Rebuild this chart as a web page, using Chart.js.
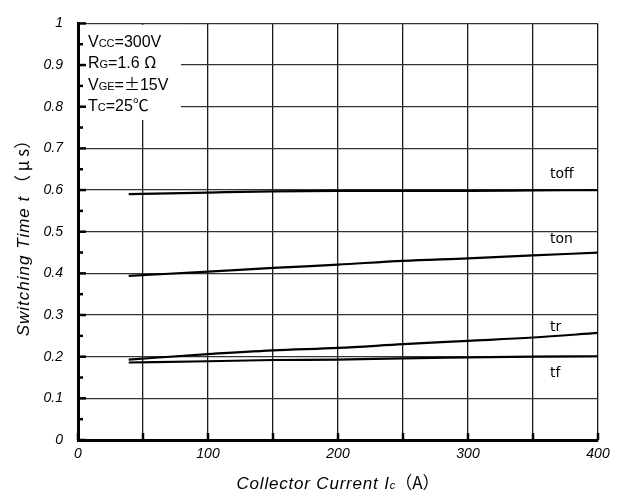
<!DOCTYPE html>
<html><head><meta charset="utf-8">
<script src="https://cdn.jsdelivr.net/npm/chart.js@4/dist/chart.umd.min.js"></script>
<style>html,body{margin:0;padding:0;background:#fff}#wrap{width:621px;height:495px;position:relative}</style>
</head><body><div id="wrap"><canvas id="c"></canvas></div>
<script>
// ---- data ----
const currentA = [39, 100, 150, 200, 250, 300, 350, 400];
const toff = [0.590, 0.594, 0.597, 0.598, 0.598, 0.598, 0.599, 0.600];
const ton  = [0.394, 0.404, 0.413, 0.421, 0.430, 0.436, 0.443, 0.450];
const tr   = [0.193, 0.206, 0.215, 0.221, 0.230, 0.238, 0.246, 0.257];
const tf   = [0.186, 0.189, 0.192, 0.193, 0.196, 0.198, 0.200, 0.201];
const seriesNames = ['toff', 'ton', 'tr', 'tf'];
const seriesLabelX = [363, 363, 363, 363];
const seriesLabelY = [0.628, 0.4735, 0.2616, 0.152];
const xTickLabels = ['0', '100', '200', '300', '400'];
const yTickLabels = ['0', '0.1', '0.2', '0.3', '0.4', '0.5', '0.6', '0.7', '0.8', '0.9', '1'];
const conditionLines = [
  [['V', 'n'], ['CC', 's'], ['=300V', 'n']],
  [['R', 'n'], ['G', 's'], ['=1.6 ', 'n'], ['Ω', 'j']],
  [['V', 'n'], ['GE', 's'], ['=', 'n'], ['±', 'j'], ['15V', 'n']],
  [['T', 'n'], ['C', 's'], ['=25', 'n'], ['℃', 'j']]
];
const xTitleParts = [['Collector Current ', 'n'], ['I', 'n'], ['c', 's'], ['（A）', 'j']];
const yTitleParts = [['Switching Time ', 'n'], ['t', 'n'], [' （ μ s）', 'j']];

const allSeries = [toff, ton, tr, tf];
const pts = s => currentA.map((x, i) => ({x: x, y: s[i]}));

function drawParts(ctx, parts, fonts, x, y, spacing) {
  parts.forEach(([t, k]) => {
    ctx.font = fonts[k];
    ctx.letterSpacing = (k === 'n' ? spacing : 0) + 'px';
    ctx.fillText(t, x, y);
    x += ctx.measureText(t).width;
  });
  ctx.letterSpacing = '0px';
}
function partsWidth(ctx, parts, fonts, spacing) {
  let w = 0;
  parts.forEach(([t, k]) => {
    ctx.font = fonts[k];
    ctx.letterSpacing = (k === 'n' ? spacing : 0) + 'px';
    w += ctx.measureText(t).width;
  });
  ctx.letterSpacing = '0px';
  return w;
}

const overlay = {
  id: 'overlay',
  afterDraw(chart) {
    const ctx = chart.ctx, xs = chart.scales.x, ys = chart.scales.y, ca = chart.chartArea;
    ctx.save();
    // conditions box
    ctx.fillStyle = '#fff';
    ctx.fillRect(ca.left + 2, ca.top + 1.5, 101, 95);
    const fonts = {n: '16px "Liberation Sans"', s: '11px "Liberation Sans"', j: '16px "Noto Sans CJK JP"'};
    ctx.fillStyle = '#000';
    ctx.textBaseline = 'alphabetic';
    ctx.textAlign = 'left';
    conditionLines.forEach((line, li) => {
      drawParts(ctx, line, fonts, ca.left + 10, ca.top + 23.5 + li * 21.5, 0);
    });
    // ticks on left axis (inside)
    ctx.strokeStyle = '#000';
    ctx.lineWidth = 2.5;
    for (let i = 0; i <= 20; i++) {
      const py = ys.getPixelForValue(i * 0.05);
      const len = (i % 2 === 0) ? 8 : 5;
      ctx.beginPath();
      ctx.moveTo(ca.left, py);
      ctx.lineTo(ca.left + len, py);
      ctx.stroke();
    }
    // ticks on bottom axis (inside)
    for (let v = 0; v <= 400; v += 50) {
      const px = xs.getPixelForValue(v);
      ctx.beginPath();
      ctx.moveTo(px, ca.bottom);
      ctx.lineTo(px, ca.bottom - 7);
      ctx.stroke();
    }
    // series labels
    ctx.font = '14px "DejaVu Sans"';
    seriesNames.forEach((n, i) => {
      ctx.fillText(n, xs.getPixelForValue(seriesLabelX[i]), ys.getPixelForValue(seriesLabelY[i]));
    });
    // axis titles
    const tf2 = {n: 'italic 17px "Liberation Sans"', s: 'italic 11px "Liberation Sans"', j: '17px "Noto Sans CJK JP"'};
    let w = partsWidth(ctx, xTitleParts, tf2, 0.8);
    drawParts(ctx, xTitleParts, tf2, (ca.left + ca.right) / 2 - w / 2, 489, 0.8);
    w = partsWidth(ctx, yTitleParts, tf2, 1);
    ctx.translate(29, 234);
    ctx.rotate(-Math.PI / 2);
    drawParts(ctx, yTitleParts, tf2, -w / 2, 0, 1);
    ctx.restore();
  }
};

const lineStyle = {borderColor: '#000', borderWidth: 2.2, pointRadius: 0, fill: false, cubicInterpolationMode: 'monotone'};

new Chart(document.getElementById('c'), {
  type: 'line',
  data: {
    datasets: allSeries.map((s, i) => Object.assign({label: seriesNames[i], data: pts(s)}, lineStyle))
  },
  options: {
    responsive: true,
    maintainAspectRatio: false,
    animation: false,
    events: [],
    layout: {padding: {left: 0, right: 23, top: 23, bottom: 0}},
    plugins: {legend: {display: false}, tooltip: {enabled: false}},
    scales: {
      x: {
        type: 'linear', min: 0, max: 400,
        afterFit: s => { s.height = 55; },
        ticks: {
          stepSize: 50,
          autoSkip: false,
          maxRotation: 0,
          padding: 6,
          color: '#000',
          font: {family: '"Liberation Sans"', size: 14, style: 'italic'},
          callback: v => (v % 100 === 0 ? xTickLabels[v / 100] : '')
        },
        grid: {color: '#1a1a1a', lineWidth: 1.3, drawTicks: false},
        border: {color: '#000', width: 3}
      },
      y: {
        min: 0, max: 1,
        afterFit: s => { s.width = 78; },
        ticks: {
          stepSize: 0.1,
          autoSkip: false,
          padding: 15,
          color: '#000',
          font: {family: '"Liberation Sans"', size: 14, style: 'italic'},
          callback: v => yTickLabels[Math.round(v * 10)]
        },
        grid: {color: '#333', lineWidth: 1.2, drawTicks: false},
        border: {color: '#000', width: 3}
      }
    }
  },
  plugins: [overlay]
});
</script>
</body></html>
